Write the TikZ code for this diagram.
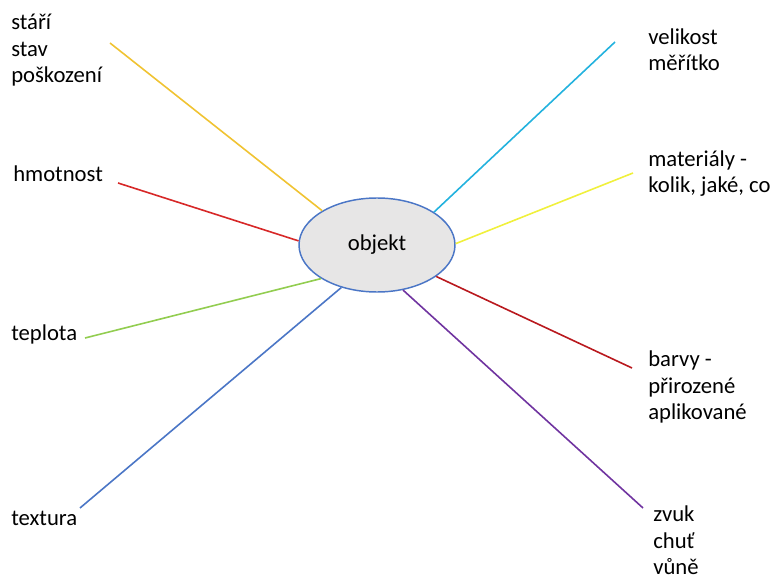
\documentclass[tikz,border=0pt]{standalone}
\usepackage{fontspec}
\setmainfont{Carlito}
\usepackage{tikz}
\usetikzlibrary{shapes.geometric}

\definecolor{gold}{RGB}{240,195,50}
\definecolor{lred}{RGB}{215,40,40}
\definecolor{dred}{RGB}{185,25,30}
\definecolor{lgreen}{RGB}{146,205,80}
\definecolor{mblue}{RGB}{75,118,198}
\definecolor{cyanb}{RGB}{35,178,222}
\definecolor{lyel}{RGB}{240,240,60}
\definecolor{purp}{RGB}{112,52,160}
\definecolor{ellfill}{RGB}{231,230,230}

\begin{document}
\begin{tikzpicture}[
  x=0.75pt, y=-0.75pt,
  every node/.style={font=\fontsize{17}{20.2}\selectfont, inner sep=0pt},
  centre/.style={ellipse, draw=mblue, line width=1.1pt, fill=ellfill,
                 minimum width=117pt, minimum height=70.5pt},
  lbl/.style   ={anchor=base west, align=left},
  spoke/.style ={line width=1.2pt}]

\useasboundingbox (0,0) rectangle (776,581);

\node[centre] (obj) at (377,245) {objekt};

% labels round the ellipse (placed at the baseline of their last line)
\node[lbl] (age)  at (11,83)   {stáří\\stav\\poškození};
\node[lbl] (mass) at (13,182)  {hmotnost};
\node[lbl] (temp) at (11,341)  {teplota};
\node[lbl] (text) at (11,525)  {textura};
\node[lbl] (size) at (648,71)  {velikost\\měřítko};
\node[lbl] (matr) at (648,193) {materiály -\\kolik, jaké, co};
\node[lbl] (colr) at (648,420) {barvy -\\přirozené\\aplikované};
\node[lbl] (snd)  at (653,575) {zvuk\\chuť\\vůně};

% free ends of the spokes
\coordinate (eage)  at (110,43);
\coordinate (emass) at (118,183);
\coordinate (etemp) at (85,338);
\coordinate (etext) at (80,508);
\coordinate (esize) at (615,42);
\coordinate (ematr) at (633,173);
\coordinate (ecolr) at (632,368);
\coordinate (esnd)  at (643,508);

\draw[spoke, gold]   (eage)  -- (obj.148.6);
\draw[spoke, lred]   (emass) -- (obj.177);
\draw[spoke, lgreen] (etemp) -- (obj.211.4);
\draw[spoke, mblue]  (etext) -- (obj.230.7);
\draw[spoke, cyanb]  (esize) -- (obj.30.5);
\draw[spoke, lyel]   (ematr) -- (obj.1);
\draw[spoke, dred]   (ecolr) -- (obj.332);
\draw[spoke, purp]   (esnd)  -- (obj.300);

\end{tikzpicture}
\end{document}
